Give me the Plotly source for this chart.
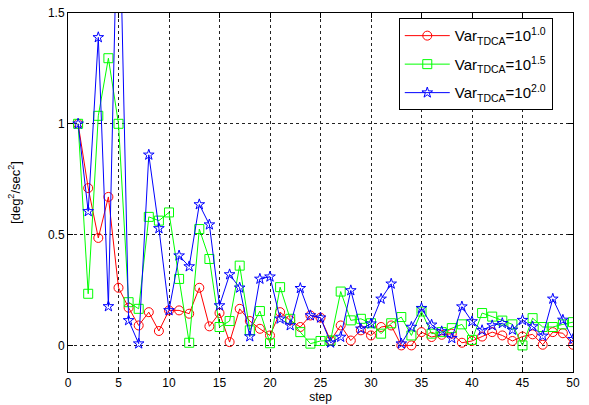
import plotly.graph_objects as go

steps = list(range(1, 51))

var_10_1_0 = [1.0, 0.71, 0.485, 0.67, 0.26, 0.17, 0.09, 0.15, 0.065, 0.158,
              0.158, 0.143, 0.26, 0.086, 0.146, 0.015, 0.165, 0.11, 0.075, 0.045,
              0.15, 0.113, 0.083, 0.135, 0.125, 0.022, 0.09, 0.022, 0.068, 0.045,
              0.083, 0.09, 0.0, 0.0, 0.06, 0.038, 0.048, 0.053, 0.012, 0.02,
              0.04, 0.06, 0.045, 0.02, 0.04, 0.05, 0.003, 0.06, 0.055, 0.003]

var_10_1_5 = [1.0, 0.233, 1.036, 1.296, 1.0, 0.195, 0.165, 0.58, 0.563, 0.60,
              0.30, 0.012, 0.525, 0.39, 0.083, 0.11, 0.36, 0.068, 0.155, 0.01,
              0.263, 0.12, 0.06, 0.008, 0.02, 0.022, 0.243, 0.113, 0.12, 0.10,
              0.053, 0.1, 0.128, 0.045, 0.153, 0.053, 0.06, 0.078, 0.095, 0.025,
              0.146, 0.13, 0.112, 0.095, 0.0, 0.123, 0.083, 0.083, 0.095, 0.105]

var_10_2_0 = [1.0, 0.605, 1.39, 0.176, 2.2, 0.113, 0.008, 0.86, 0.528, 0.158,
              0.405, 0.356, 0.636, 0.545, 0.18, 0.32, 0.26, 0.04, 0.30, 0.31,
              0.12, 0.09, 0.258, 0.135, 0.125, 0.012, 0.038, 0.248, 0.075, 0.098,
              0.21, 0.278, 0.008, 0.083, 0.168, 0.093, 0.063, 0.032, 0.175, 0.108,
              0.068, 0.09, 0.1, 0.07, 0.114, 0.085, 0.043, 0.21, 0.115, 0.028]

names = ["Var<sub>TDCA</sub>=10<sup>1.0</sup>",
         "Var<sub>TDCA</sub>=10<sup>1.5</sup>",
         "Var<sub>TDCA</sub>=10<sup>2.0</sup>"]

x_ticks = list(range(0, 51, 5))
y_ticks = [0, 0.5, 1, 1.5]
y_tick_labels = ["0", "0.5", "1", "1.5"]

series = [
    (var_10_1_0, names[0], "#ff0000", "circle-open", 9, "g1"),
    (var_10_1_5, names[1], "#00ff00", "square-open", 9, "g2"),
    (var_10_2_0, names[2], "#0000ff", "star-open", 8, "g3"),
]

FONT = "Liberation Sans, Arial"

fig = go.Figure()
for vals, name, color, sym, size, grp in series:
    fig.add_trace(go.Scatter(
        x=steps, y=vals, name=name, mode="lines+markers", legendgroup=grp,
        line=dict(color=color, width=1),
        marker=dict(symbol=sym, size=size, color=color, line=dict(width=1, color=color)),
        cliponaxis=True,
    ))

axis_common = dict(
    showline=True, linecolor="#000000", linewidth=1, mirror="ticks",
    ticks="inside", ticklen=5, tickcolor="#000000",
    showgrid=True, gridcolor="#222222", gridwidth=1, griddash="3px,3px",
    zeroline=False, automargin=False,
    tickfont=dict(family=FONT, size=12, color="#000000"),
)

fig.update_xaxes(range=[0, 50], tickvals=x_ticks,
                 title=dict(text="step", font=dict(family=FONT, size=12, color="#000000"), standoff=2),
                 **axis_common)
fig.update_yaxes(range=[-0.12, 1.5], tickvals=y_ticks, ticktext=y_tick_labels,
                 title=dict(text="[deg<sup>2</sup>/sec<sup>2</sup>]", font=dict(family=FONT, size=13, color="#000000"), standoff=24),
                 **axis_common)

fig.update_layout(
    width=589, height=405,
    margin=dict(l=68, r=16, t=13, b=33),
    paper_bgcolor="#ffffff", plot_bgcolor="#ffffff",
    showlegend=True,
    legend=dict(x=0.655, y=0.985, xanchor="left", yanchor="top",
                bgcolor="#ffffff", bordercolor="#000000", borderwidth=1,
                itemwidth=45, traceorder="grouped", tracegroupgap=6,
                font=dict(family=FONT, size=15, color="#000000")),
)

fig.write_html("out.html", config={"displayModeBar": False},
               post_script="document.body.style.margin='0px';")
